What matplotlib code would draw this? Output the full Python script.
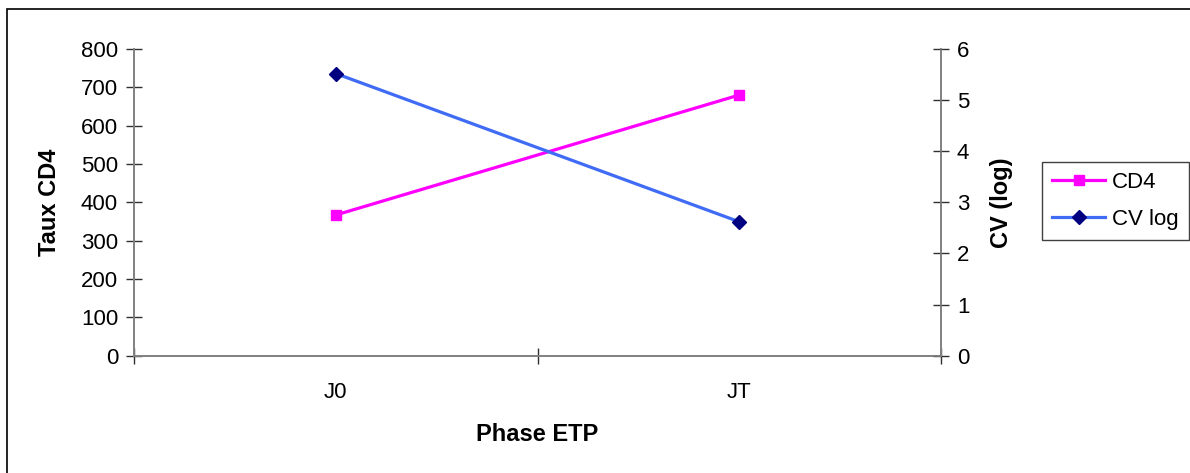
import matplotlib.pyplot as plt
from matplotlib.patches import Rectangle

plt.rcParams['font.family'] = ['Liberation Sans', 'DejaVu Sans']

# données
phases = ['J0', 'JT']
cd4 = [367, 680]
cv_log = [5.52, 2.62]

fig = plt.figure(figsize=(11.9, 4.73), dpi=100)
W, H = 1190, 473

# cadre extérieur
fig.patches.append(Rectangle((7 / W, -0.1), 1.2, (H - 9) / H + 0.1,
                             transform=fig.transFigure, fill=False,
                             edgecolor='black', linewidth=1.2))

ax = fig.add_axes([134 / W, (H - 355.7) / H, (941 - 134) / W, (355.7 - 49) / H])
ax2 = ax.twinx()

x = range(len(phases))
l1, = ax.plot(x, cd4, color='#FF00FF', linewidth=2.3, marker='s', markersize=7.5,
              label='CD4')
l2, = ax2.plot(x, cv_log, color='#3F6BF5', linewidth=2.3, marker='D', markersize=7,
               markerfacecolor='#000080', markeredgecolor='#000080', label='CV log')

ax.set_xlim(-0.5, len(phases) - 0.5)
ax.set_ylim(0, 800)
ax2.set_ylim(0, 6)
ax.set_yticks(range(0, 801, 100))
ax2.set_yticks(range(0, 7))

# étiquettes des catégories au centre, traits aux limites
ax.set_xticks(list(x))
ax.set_xticklabels(phases)
ax.set_xticks([-0.5, 0.5, 1.5], minor=True)
ax.tick_params(axis='x', which='major', length=0, pad=19, labelsize=16)
ax.tick_params(axis='x', which='minor', length=11, direction='inout', color='#303030', width=1)

ax.tick_params(axis='y', length=11, direction='inout', color='#303030', width=1,
               labelsize=16, pad=6)
ax2.tick_params(axis='y', length=11, direction='inout', color='#303030', width=1,
                labelsize=16, pad=6)

for a in (ax, ax2):
    a.spines['top'].set_visible(False)
    for s in ('left', 'right', 'bottom'):
        a.spines[s].set_color('#808080')
        a.spines[s].set_linewidth(1.2)

ax.set_xlabel('Phase ETP', fontsize=17, fontweight='bold', labelpad=14)
ax.set_ylabel('Taux CD4', fontsize=17, fontweight='bold', labelpad=14)
ax2.set_ylabel('CV (log)', fontsize=17, fontweight='bold', labelpad=15)

leg = fig.legend(handles=[l1, l2], loc='upper left',
                 bbox_to_anchor=(1042 / W, (H - 162) / H),
                 fontsize=16, frameon=True, fancybox=False, framealpha=1,
                 edgecolor='#404040', handlelength=2.4, borderpad=0.45,
                 labelspacing=0.7, handletextpad=0.3, borderaxespad=0)
leg.get_frame().set_linewidth(1.0)

fig.savefig('out.png', dpi=100)
